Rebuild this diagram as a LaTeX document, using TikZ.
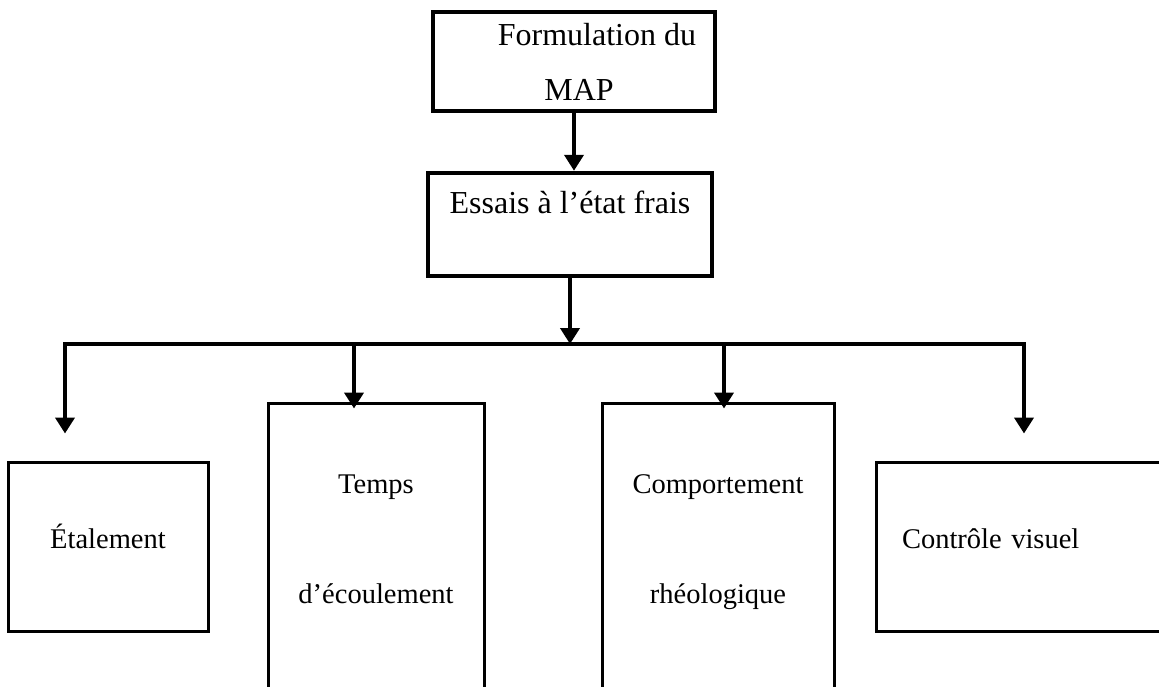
\documentclass[tikz,border=0pt]{standalone}
\usepackage{fontspec}
\setmainfont{Liberation Serif}
\usetikzlibrary{arrows.meta}

\begin{document}
\begin{tikzpicture}[x=1pt, y=-1pt,
  font=\fontsize{28.5}{34}\selectfont,
  thickbox/.style={draw, line width=4.5pt, inner sep=0pt, align=center, font=\fontsize{32}{38}\selectfont},
  thinbox/.style={draw, line width=3pt, inner sep=0pt, align=center},
  arr/.style={line width=4pt, -{Triangle[width=19pt,length=16pt]}}]

\useasboundingbox (0,0) rectangle (1159,686);
\clip (0,0) rectangle (1159,686);

\node[thickbox, minimum width=282pt, minimum height=99pt] (fmap) at (574,61.5) {\hspace*{46pt}Formulation du\\[17pt]\hspace*{10pt}MAP};
\node[thickbox, minimum width=284pt, minimum height=103pt, text height=22pt, text depth=45pt] (essais) at (570,224.5) {Essais à l’état frais};

\coordinate (b1) at (65,344);
\coordinate (b2) at (354,344);
\coordinate (b3) at (724,344);
\coordinate (b4) at (1024,344);

\node[thinbox, minimum width=200pt, minimum height=169pt, text height=20pt, text depth=17pt] (etal) at (108,546.5) {Étalement};
\node[thinbox, minimum width=216pt, minimum height=297pt, text height=130pt, text depth=27pt] (temps) at (376,551.5) {Temps\\[76pt]d’écoulement};
\node[thinbox, minimum width=232pt, minimum height=297pt, text height=130pt, text depth=27pt] (comp) at (718,551.5) {Comportement\\[76pt]rhéologique};
\node[thinbox, minimum height=169pt, text width=252pt, inner xsep=26pt, align=left, text height=20pt, text depth=17pt] (ctrl) at (1028,546.5) {Contrôle visuel};

\draw[line width=4.5pt, line cap=rect] (b1) -- (b4);
\draw[arr] (fmap.south) -- (fmap.south |- essais.north);
\draw[arr] (essais.south) -- (essais.south |- b1);
\draw[arr, shorten >=27pt] (b1) -- (b1 |- etal.north);
\draw[arr, shorten >=-7pt] (b2) -- (b2 |- temps.north);
\draw[arr, shorten >=-7pt] (b3) -- (b3 |- comp.north);
\draw[arr, shorten >=27pt] (b4) -- (b4 |- ctrl.north);
\end{tikzpicture}
\end{document}
